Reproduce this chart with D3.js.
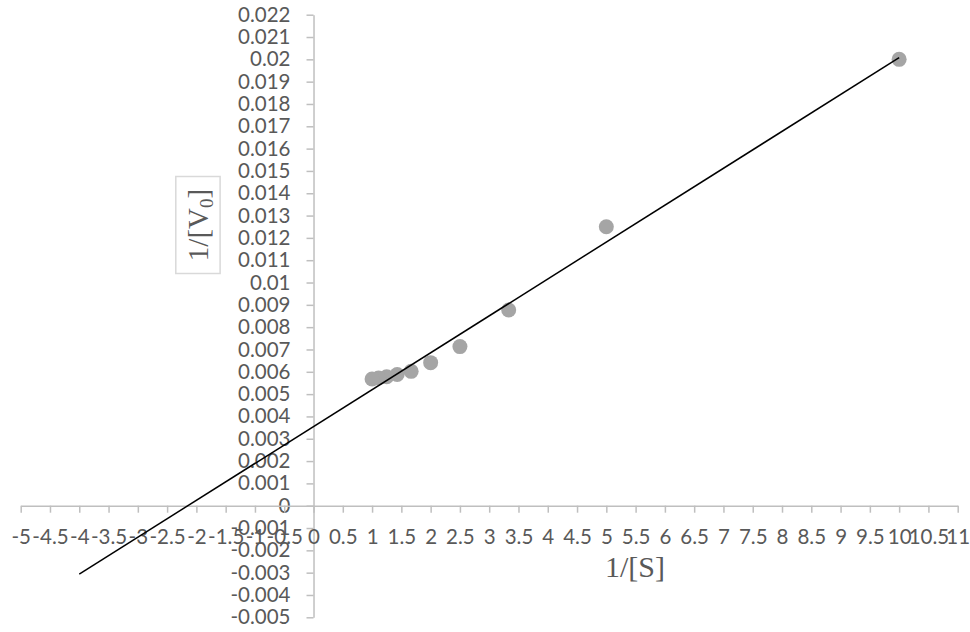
<!DOCTYPE html>
<html>
<head>
<meta charset="utf-8">
<script src="https://cdn.jsdelivr.net/npm/d3@7"></script>
<style>
  html, body { margin: 0; padding: 0; background: #ffffff; }
  svg { display: block; }
</style>
</head>
<body>
<svg id="chart" width="970" height="632"></svg>
<script>
// ---- data ----
const invS = [10, 5, 3.333, 2.5, 2, 1.667, 1.429, 1.25, 1.111, 1.0];
const invV0 = [0.0200, 0.0125, 0.00877, 0.00713, 0.00641, 0.00602, 0.00588, 0.00578, 0.00572, 0.00568];
const xTickLabels = ["-5","-4.5","-4","-3.5","-3","-2.5","-2","-1.5","-1","-0.5","0","0.5","1","1.5","2","2.5","3","3.5","4","4.5","5","5.5","6","6.5","7","7.5","8","8.5","9","9.5","10","10.5","11"];
const yTickLabels = ["-0.005","-0.004","-0.003","-0.002","-0.001","0","0.001","0.002","0.003","0.004","0.005","0.006","0.007","0.008","0.009","0.01","0.011","0.012","0.013","0.014","0.015","0.016","0.017","0.018","0.019","0.02","0.021","0.022"];
const trendBackward = 5; // linear trendline forecast backward (x units)
const xTitle = "1/[S]";
const yTitleMain = "1/[V";
const yTitleSub = "0";
const yTitleEnd = "]";

// ---- layout ----
const svg = d3.select("#chart");
const x = d3.scaleLinear().domain([-5, 11]).range([20.7, 957.7]);
const y = d3.scaleLinear().domain([-0.005, 0.022]).range([617.3, 14.7]);

const axisColor = "#bfbfbf";
const labelColor = "#595959";
const tickFont = "Lato, 'Liberation Sans', sans-serif";
const tickSize = "20.5px";

// ---- y axis (at x = 0) ----
const yAxis = d3.axisLeft(y)
  .tickValues(yTickLabels.map(Number))
  .tickFormat((d, i) => yTickLabels[i])
  .tickSize(7)
  .tickSizeOuter(0)
  .tickPadding(16);
const gy = svg.append("g").attr("transform", `translate(${x(0)},0)`).call(yAxis);
gy.selectAll("text").attr("fill", labelColor).style("font-family", tickFont).style("font-size", tickSize);

// ---- x axis (at y = 0) ----
const xAxis = d3.axisBottom(x)
  .tickValues(xTickLabels.map(Number))
  .tickFormat((d, i) => xTickLabels[i])
  .tickSize(7)
  .tickSizeOuter(0)
  .tickPadding(17);
const gx = svg.append("g").attr("transform", `translate(0,${y(0)})`).call(xAxis);
gx.selectAll("text").attr("fill", labelColor).style("font-family", tickFont).style("font-size", tickSize);

[gx, gy].forEach(g => {
  g.select(".domain").attr("stroke", axisColor).attr("stroke-width", 1.5);
  g.selectAll(".tick line").attr("stroke", axisColor).attr("stroke-width", 1.5);
});

// ---- axis titles ----
svg.append("text")
  .attr("x", 635).attr("y", 577)
  .attr("text-anchor", "middle")
  .attr("fill", labelColor)
  .style("font-family", "'Liberation Serif', 'Times New Roman', serif")
  .style("font-size", "30px")
  .text(xTitle);

const yt = svg.append("g").attr("transform", "translate(198,225) rotate(-90)");
yt.append("rect")
  .attr("x", -48.5).attr("y", -22.2)
  .attr("width", 97).attr("height", 44.3)
  .attr("fill", "none").attr("stroke", "#d9d9d9").attr("stroke-width", 1.5);
const ytt = yt.append("text")
  .attr("x", 0).attr("y", 10)
  .attr("text-anchor", "middle")
  .attr("fill", labelColor)
  .style("font-family", "'Liberation Serif', 'Times New Roman', serif")
  .style("font-size", "29px");
ytt.append("tspan").text(yTitleMain);
ytt.append("tspan").attr("baseline-shift", "-25%").style("font-size", "19px").text(yTitleSub);
ytt.append("tspan").text(yTitleEnd);

// ---- linear trendline (least squares) ----
const n = invS.length;
const mx = d3.mean(invS), my = d3.mean(invV0);
let sxy = 0, sxx = 0;
for (let i = 0; i < n; i++) { sxy += (invS[i]-mx)*(invV0[i]-my); sxx += (invS[i]-mx)**2; }
const slope = sxy / sxx, intercept = my - slope * mx;
const x0 = d3.min(invS) - trendBackward, x1 = d3.max(invS);
const line = d3.line().x(d => x(d[0])).y(d => y(d[1]));

// ---- points ----
svg.append("g").selectAll("circle")
  .data(invS.map((s, i) => [s, invV0[i]]))
  .join("circle")
  .attr("cx", d => x(d[0]))
  .attr("cy", d => y(d[1]))
  .attr("r", 7.5)
  .attr("fill", "#a5a5a5");

svg.append("path")
  .datum([[x0, slope*x0 + intercept], [x1, slope*x1 + intercept]])
  .attr("d", line)
  .attr("fill", "none")
  .attr("stroke", "#000000")
  .attr("stroke-width", 1.5);
</script>
</body>
</html>
